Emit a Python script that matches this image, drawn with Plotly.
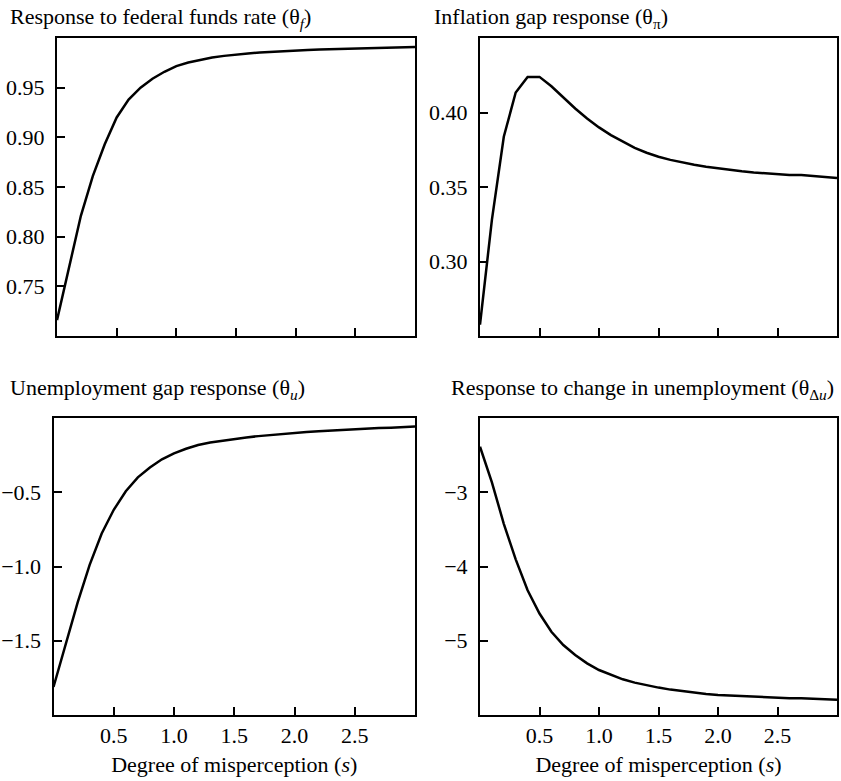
import plotly.graph_objects as go

s_vals = [round(i * 0.1, 1) for i in range(31)]

theta_f = [0.716, 0.768, 0.821, 0.861, 0.893, 0.920, 0.938, 0.950, 0.959, 0.966,
           0.9717, 0.9753, 0.9781, 0.9803, 0.9820, 0.9834, 0.9845, 0.9854, 0.9862, 0.9869,
           0.9875, 0.9880, 0.9884, 0.9888, 0.9891, 0.9894, 0.9897, 0.9899, 0.9901, 0.9904,
           0.991]

theta_pi = [0.2576, 0.3279, 0.3837, 0.4134, 0.4239, 0.4239, 0.4176, 0.4100, 0.4027, 0.3960,
            0.3900, 0.3848, 0.3804, 0.3763, 0.3730, 0.3703, 0.3682, 0.3664, 0.3649, 0.3636,
            0.3625, 0.3615, 0.3606, 0.3598, 0.3591, 0.3585, 0.3580, 0.3580, 0.3574, 0.3567,
            0.3560]

theta_u = [-1.811, -1.529, -1.244, -0.989, -0.778, -0.618, -0.493, -0.400, -0.333, -0.278,
           -0.238, -0.207, -0.182, -0.165, -0.152, -0.141, -0.131, -0.122, -0.114, -0.107,
           -0.101, -0.095, -0.090, -0.085, -0.081, -0.077, -0.073, -0.068, -0.065, -0.062,
           -0.058]

theta_du = [-2.387, -2.866, -3.425, -3.904, -4.320, -4.633, -4.879, -5.058, -5.192, -5.304,
            -5.394, -5.461, -5.519, -5.564, -5.600, -5.631, -5.658, -5.680, -5.698, -5.716,
            -5.729, -5.738, -5.747, -5.756, -5.763, -5.770, -5.774, -5.776, -5.783, -5.792,
            -5.796]

titles = ["Response to federal funds rate (θ<sub><i>f</i></sub>)",
          "Inflation gap response (θ<sub>π</sub>)",
          "Unemployment gap response (θ<sub><i>u</i></sub>)",
          "Response to change in unemployment (θ<sub>Δ<i>u</i></sub>)"]
x_ticks = [0.5, 1.0, 1.5, 2.0, 2.5]
x_label = "Degree of misperception (<i>s</i>)"

W, H = 841, 781
FONT = "Liberation Serif, Times New Roman, serif"
FS = 22

# panel boxes in pixels: (x0, x1, y0, y1)
boxes = [(57, 415, 38, 336), (480, 837, 38, 336),
         (53.5, 415, 418, 715), (480, 837, 418, 715)]
y_ranges = [[0.70, 1.0], [0.25, 0.45], [-2.0, 0.0], [-6.0, -2.0]]
y_ticks = [[0.75, 0.80, 0.85, 0.90, 0.95], [0.30, 0.35, 0.40],
           [-1.5, -1.0, -0.5], [-5, -4, -3]]
y_fmt = [".2f", ".2f", ".1f", "d"]
series = [theta_f, theta_pi, theta_u, theta_du]
title_pos = [(8, 18), (432, 18), (8, 389), (449, 389)]

fig = go.Figure()
for i in range(4):
    sfx = "" if i == 0 else str(i + 1)
    fig.add_trace(go.Scatter(x=s_vals, y=series[i], mode="lines",
                             line=dict(color="black", width=2.5),
                             xaxis="x" + sfx, yaxis="y" + sfx, showlegend=False))
    x0, x1, y0, y1 = boxes[i]
    common = dict(showline=True, linecolor="black", linewidth=2, mirror=True,
                  ticks="inside", ticklen=8, tickwidth=1.5, tickcolor="black",
                  showgrid=False, zeroline=False,
                  tickfont=dict(family=FONT, size=FS, color="black"))
    xa = dict(common, domain=[x0 / W, x1 / W], range=[0, 3], tickvals=x_ticks,
              tickformat=".1f", showticklabels=(i >= 2), anchor="y" + sfx,
              ticklabelstandoff=0)
    if i >= 2:
        xa["title"] = dict(text=x_label, font=dict(family=FONT, size=FS, color="black"),
                           standoff=9)
    ya = dict(common, domain=[1 - y1 / H, 1 - y0 / H], range=y_ranges[i],
              tickvals=y_ticks[i], tickformat=y_fmt[i], anchor="x" + sfx,
              ticklabelstandoff=6)
    fig.update_layout(**{"xaxis" + sfx: xa, "yaxis" + sfx: ya})
    tx, ty = title_pos[i]
    fig.add_annotation(text=titles[i], x=tx / W, y=1 - ty / H, xref="paper", yref="paper",
                       xanchor="left", yanchor="middle", showarrow=False,
                       font=dict(family=FONT, size=FS, color="black"))

fig.update_layout(width=W, height=H, margin=dict(l=0, r=0, t=0, b=0),
                  paper_bgcolor="white", plot_bgcolor="white",
                  font=dict(family=FONT, size=FS, color="black"))
fig.write_html("out.html")
